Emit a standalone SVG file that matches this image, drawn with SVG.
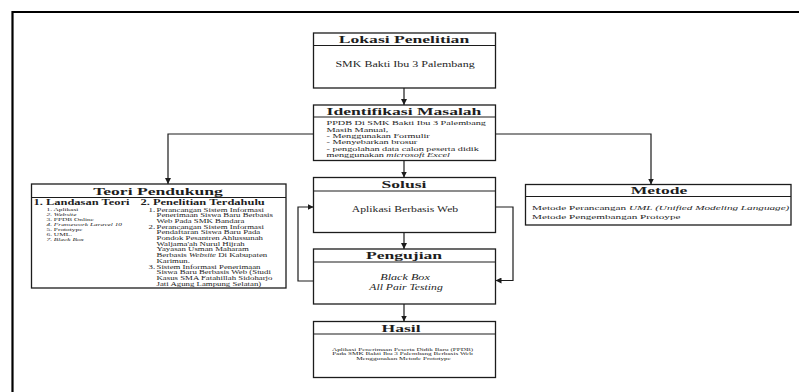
<svg xmlns="http://www.w3.org/2000/svg" width="799" height="392" viewBox="0 0 799 392">
  <style>
    .frame { fill: none; stroke: #000; stroke-width: 2.2; }
    .box { fill: #fff; stroke: #1c1c1c; stroke-width: 1.3; }
    .sep { stroke: #1c1c1c; stroke-width: 1.2; }
    .link { fill: none; stroke: #1c1c1c; stroke-width: 1.2; marker-end: url(#ah); }
    text { font-family: "Liberation Serif", "Times New Roman", serif; fill: #1e1e1e; }
    .title { font-size: 11px; font-weight: bold; text-anchor: middle; }
    .sub { font-size: 7.8px; font-weight: bold; }
    .mid { text-anchor: middle; }
    .it { font-style: italic; }
  </style>
  <defs>
    <marker id="ah" viewBox="0 0 10 10" refX="10" refY="5" markerWidth="6" markerHeight="6" orient="auto" markerUnits="userSpaceOnUse">
      <path d="M0,0 L10,5 L0,10 z" fill="#1c1c1c"/>
    </marker>
  </defs>

  <rect width="799" height="392" fill="#fff"/>
  <path class="frame" d="M12.5 392 V12 H799"/>

  <!-- connectors -->
  <g id="connectors">
    <path class="link" d="M404 88 V105"/>
    <path class="link" d="M404 160.5 V177.5"/>
    <path class="link" d="M404 232.5 V249"/>
    <path class="link" d="M404 304 V321.5"/>
    <path class="link" d="M313.5 134 H168 V184"/>
    <path class="link" d="M495.5 134 H651 V184.5"/>
    <path class="link" d="M313.5 281 H298 V207 H313.5"/>
    <path class="link" d="M495.5 207 H513 V280.5 H495.5"/>
  </g>

  <!-- Lokasi Penelitian -->
  <g id="lokasi">
    <rect class="box" x="313.5" y="33" width="182" height="55"/>
    <line class="sep" x1="313.5" y1="45.5" x2="495.5" y2="45.5"/>
    <text class="title" transform="translate(404 43) scale(1.6 1)">Lokasi Penelitian</text>
    <text class="mid" font-size="7.5" transform="translate(405 66.5) scale(1.6 1)">SMK Bakti Ibu 3 Palembang</text>
  </g>

  <!-- Identifikasi Masalah -->
  <g id="identifikasi">
    <rect class="box" x="313.5" y="105" width="182" height="55.5"/>
    <line class="sep" x1="313.5" y1="117" x2="495.5" y2="117"/>
    <text class="title" transform="translate(404 114.8) scale(1.6 1)">Identifikasi Masalah</text>
    <text font-size="6.4" transform="translate(326.5 125.3) scale(1.6 1)">
      <tspan x="0" y="0">PPDB Di SMK Bakti Ibu 3 Palembang</tspan>
      <tspan x="0" y="6.4">Masih Manual,</tspan>
      <tspan x="0" y="12.8">- Menggunakan Formulir</tspan>
      <tspan x="0" y="19.2">- Menyebarkan brosur</tspan>
      <tspan x="0" y="25.6">- pengolahan data calon peserta didik</tspan>
      <tspan x="0" y="32">menggunakan <tspan class="it">microsoft Excel</tspan></tspan>
    </text>
  </g>

  <!-- Solusi -->
  <g id="solusi">
    <rect class="box" x="313.5" y="177.5" width="182" height="55"/>
    <line class="sep" x1="313.5" y1="191" x2="495.5" y2="191"/>
    <text class="title" transform="translate(404 188) scale(1.6 1)">Solusi</text>
    <text class="mid" font-size="7.3" transform="translate(405 211.5) scale(1.6 1)">Aplikasi Berbasis Web</text>
  </g>

  <!-- Pengujian -->
  <g id="pengujian">
    <rect class="box" x="313.5" y="249" width="182" height="55"/>
    <line class="sep" x1="313.5" y1="262" x2="495.5" y2="262"/>
    <text class="title" transform="translate(404 259) scale(1.6 1)">Pengujian</text>
    <text class="mid it" font-size="7.6" transform="translate(405 280) scale(1.6 1)">Black Box</text>
    <text class="mid it" font-size="7.3" transform="translate(406 290) scale(1.6 1)">All Pair Testing</text>
  </g>

  <!-- Hasil -->
  <g id="hasil">
    <rect class="box" x="313.5" y="321.5" width="182" height="56"/>
    <line class="sep" x1="313.5" y1="334" x2="495.5" y2="334"/>
    <text class="title" transform="translate(401 331.5) scale(1.6 1)">Hasil</text>
    <text class="mid" font-size="4.5" transform="translate(403.5 350.8) scale(1.6 1)">
      <tspan x="0" y="0">Aplikasi Penerimaan Peserta Didik Baru (PPDB)</tspan>
      <tspan x="0" y="4.5">Pada SMK Bakti Ibu 3 Palembang Berbasis Web</tspan>
      <tspan x="0" y="9">Menggunakan Metode Prototype</tspan>
    </text>
  </g>

  <!-- Teori Pendukung -->
  <g id="teori">
    <rect class="box" x="31.5" y="184" width="254.5" height="104"/>
    <line class="sep" x1="31.5" y1="197.5" x2="286" y2="197.5"/>
    <text class="title" transform="translate(158 194.5) scale(1.6 1)">Teori Pendukung</text>
    <text class="sub" transform="translate(33.5 204.5) scale(1.6 1)">1. Landasan Teori</text>
    <text class="sub" transform="translate(140.5 204.5) scale(1.6 1)">2. Penelitian Terdahulu</text>
    <text font-size="4.6" transform="translate(46.5 210.6) scale(1.6 1)">
      <tspan x="0" y="0">1. Aplikasi</tspan>
      <tspan x="0" y="5.15" class="it">2. Website</tspan>
      <tspan x="0" y="10.3">3. PPDB Online</tspan>
      <tspan x="0" y="15.45" class="it">4. Framework Laravel 10</tspan>
      <tspan x="0" y="20.6">5. Prototype</tspan>
      <tspan x="0" y="25.75">6. UML.</tspan>
      <tspan x="0" y="30.9" class="it">7. Black Box</tspan>
    </text>
    <text font-size="5.5" transform="translate(148.5 211.6) scale(1.6 1)">
      <tspan x="0" y="0">1.</tspan>
      <tspan x="0" y="17.1">2.</tspan>
      <tspan x="0" y="57">3.</tspan>
    </text>
    <text font-size="5.5" transform="translate(156.5 211.6) scale(1.6 1)">
      <tspan x="0" y="0">Perancangan Sistem Informasi</tspan>
      <tspan x="0" y="5.7">Penerimaan Siswa Baru Berbasis</tspan>
      <tspan x="0" y="11.4">Web Pada SMK Bandara</tspan>
      <tspan x="0" y="17.1">Perancangan Sistem Informasi</tspan>
      <tspan x="0" y="22.8">Pendaftaran Siswa Baru Pada</tspan>
      <tspan x="0" y="28.5">Pondok Pesantren Ahlussunah</tspan>
      <tspan x="0" y="34.2">Waljama'ah Nurul Hijrah</tspan>
      <tspan x="0" y="39.9">Yayasan Usman Maharam</tspan>
      <tspan x="0" y="45.6">Berbasis <tspan class="it">Website</tspan> Di Kabupaten</tspan>
      <tspan x="0" y="51.3">Karimun.</tspan>
      <tspan x="0" y="57">Sistem Informasi Penerimaan</tspan>
      <tspan x="0" y="62.7">Siswa Baru Berbasis Web (Studi</tspan>
      <tspan x="0" y="68.4">Kasus SMA Fatahillah Sidoharjo</tspan>
      <tspan x="0" y="74.1">Jati Agung Lampung Selatan)</tspan>
    </text>
  </g>

  <!-- Metode -->
  <g id="metode">
    <rect class="box" x="525.5" y="184.5" width="265.5" height="40.5"/>
    <line class="sep" x1="525.5" y1="196.5" x2="791" y2="196.5"/>
    <text class="title" transform="translate(659 193.8) scale(1.6 1)">Metode</text>
    <text font-size="7" transform="translate(532 209.6) scale(1.6 1)">
      <tspan x="0" y="0">Metode Perancangan <tspan class="it">UML (Unified Modeling Language)</tspan></tspan>
      <tspan x="0" y="9.4">Metode Pengembangan Protoype</tspan>
    </text>
  </g>
</svg>
